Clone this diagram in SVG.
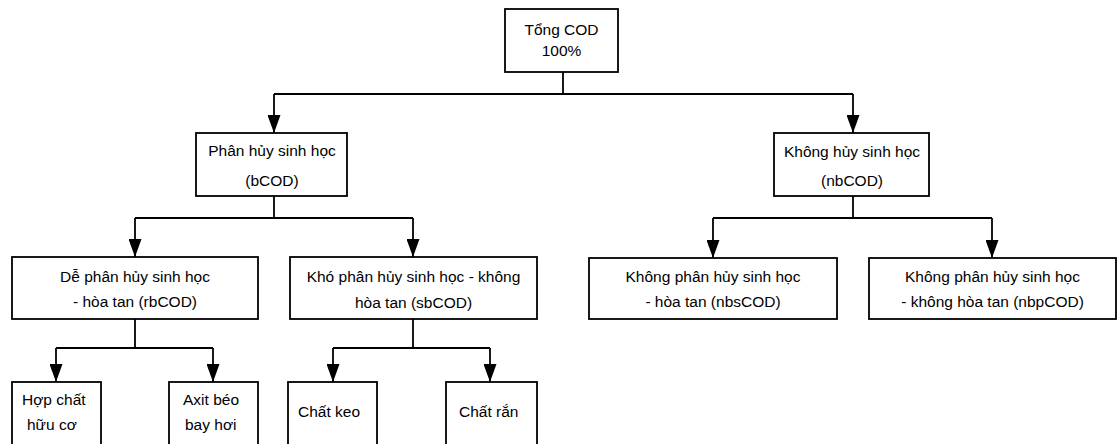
<svg xmlns="http://www.w3.org/2000/svg" width="1117" height="444" viewBox="0 0 1117 444">
<defs>
<style>
.box{fill:#fff;stroke:#000;stroke-width:1.8}
.t{font-family:"Liberation Sans",Arial,sans-serif;font-size:15.5px;fill:#000;text-anchor:middle}
.s{text-anchor:start}
.c{fill:none;stroke:#000;stroke-width:1.8}
</style>
<marker id="ah" markerUnits="userSpaceOnUse" markerWidth="18" markerHeight="13" refX="18" refY="6.5" orient="auto">
<path d="M0,0 L18,6.5 L0,13 Z" fill="#000"/>
</marker>
</defs>
<rect width="1117" height="444" fill="#fff"/>
<g id="connectors">
<path class="c" d="M563,72 V94 M274,94 H853"/>
<path class="c" d="M274,94 V133" marker-end="url(#ah)"/>
<path class="c" d="M853,94 V133" marker-end="url(#ah)"/>
<path class="c" d="M274,196 V218 M135,218 H413"/>
<path class="c" d="M135,218 V257" marker-end="url(#ah)"/>
<path class="c" d="M413,218 V257" marker-end="url(#ah)"/>
<path class="c" d="M853,196 V218 M713,218 H992"/>
<path class="c" d="M713,218 V258" marker-end="url(#ah)"/>
<path class="c" d="M992,218 V258" marker-end="url(#ah)"/>
<path class="c" d="M135,319 V348 M56,348 H213"/>
<path class="c" d="M56,348 V382" marker-end="url(#ah)"/>
<path class="c" d="M213,348 V382" marker-end="url(#ah)"/>
<path class="c" d="M413,319 V348 M333,348 H490"/>
<path class="c" d="M333,348 V382" marker-end="url(#ah)"/>
<path class="c" d="M490,348 V382" marker-end="url(#ah)"/>
</g>
<g id="tong">
<rect class="box" x="505" y="9" width="113" height="63"/>
<text class="t" x="561.5" y="35">Tổng COD</text>
<text class="t" x="561.5" y="56">100%</text>
</g>
<g id="bcod">
<rect class="box" x="196" y="133" width="151" height="63"/>
<text class="t" x="272" y="156">Phân hủy sinh học</text>
<text class="t" x="272" y="186">(bCOD)</text>
</g>
<g id="nbcod">
<rect class="box" x="774" y="133" width="155" height="63"/>
<text class="t" x="852" y="157">Không hủy sinh học</text>
<text class="t" x="852" y="186">(nbCOD)</text>
</g>
<g id="rbcod">
<rect class="box" x="12" y="257" width="246" height="62"/>
<text class="t" x="135" y="282">Dễ phân hủy sinh học</text>
<text class="t" x="135" y="307">- hòa tan (rbCOD)</text>
</g>
<g id="sbcod">
<rect class="box" x="290" y="257" width="247" height="62"/>
<text class="t" x="413.5" y="282">Khó phân hủy sinh học - không</text>
<text class="t" x="413.5" y="308">hòa tan (sbCOD)</text>
</g>
<g id="nbscod">
<rect class="box" x="589" y="258" width="248" height="61"/>
<text class="t" x="713" y="282">Không phân hủy sinh học</text>
<text class="t" x="713" y="307">- hòa tan (nbsCOD)</text>
</g>
<g id="nbpcod">
<rect class="box" x="869" y="258" width="247" height="61"/>
<text class="t" x="992.5" y="282">Không phân hủy sinh học</text>
<text class="t" x="992.5" y="307">- không hòa tan (nbpCOD)</text>
</g>
<g id="hopchat">
<rect class="box" x="12" y="382" width="89" height="70"/>
<text class="t s" x="22" y="405">Hợp chất</text>
<text class="t s" x="27" y="430">hữu cơ</text>
</g>
<g id="axit">
<rect class="box" x="169" y="382" width="89" height="70"/>
<text class="t s" x="183" y="405">Axit béo</text>
<text class="t s" x="185" y="430">bay hơi</text>
</g>
<g id="keo">
<rect class="box" x="288" y="382" width="89" height="70"/>
<text class="t s" x="298" y="417">Chất keo</text>
</g>
<g id="ran">
<rect class="box" x="446" y="382" width="91" height="70"/>
<text class="t s" x="459" y="417">Chất rắn</text>
</g>
</svg>
